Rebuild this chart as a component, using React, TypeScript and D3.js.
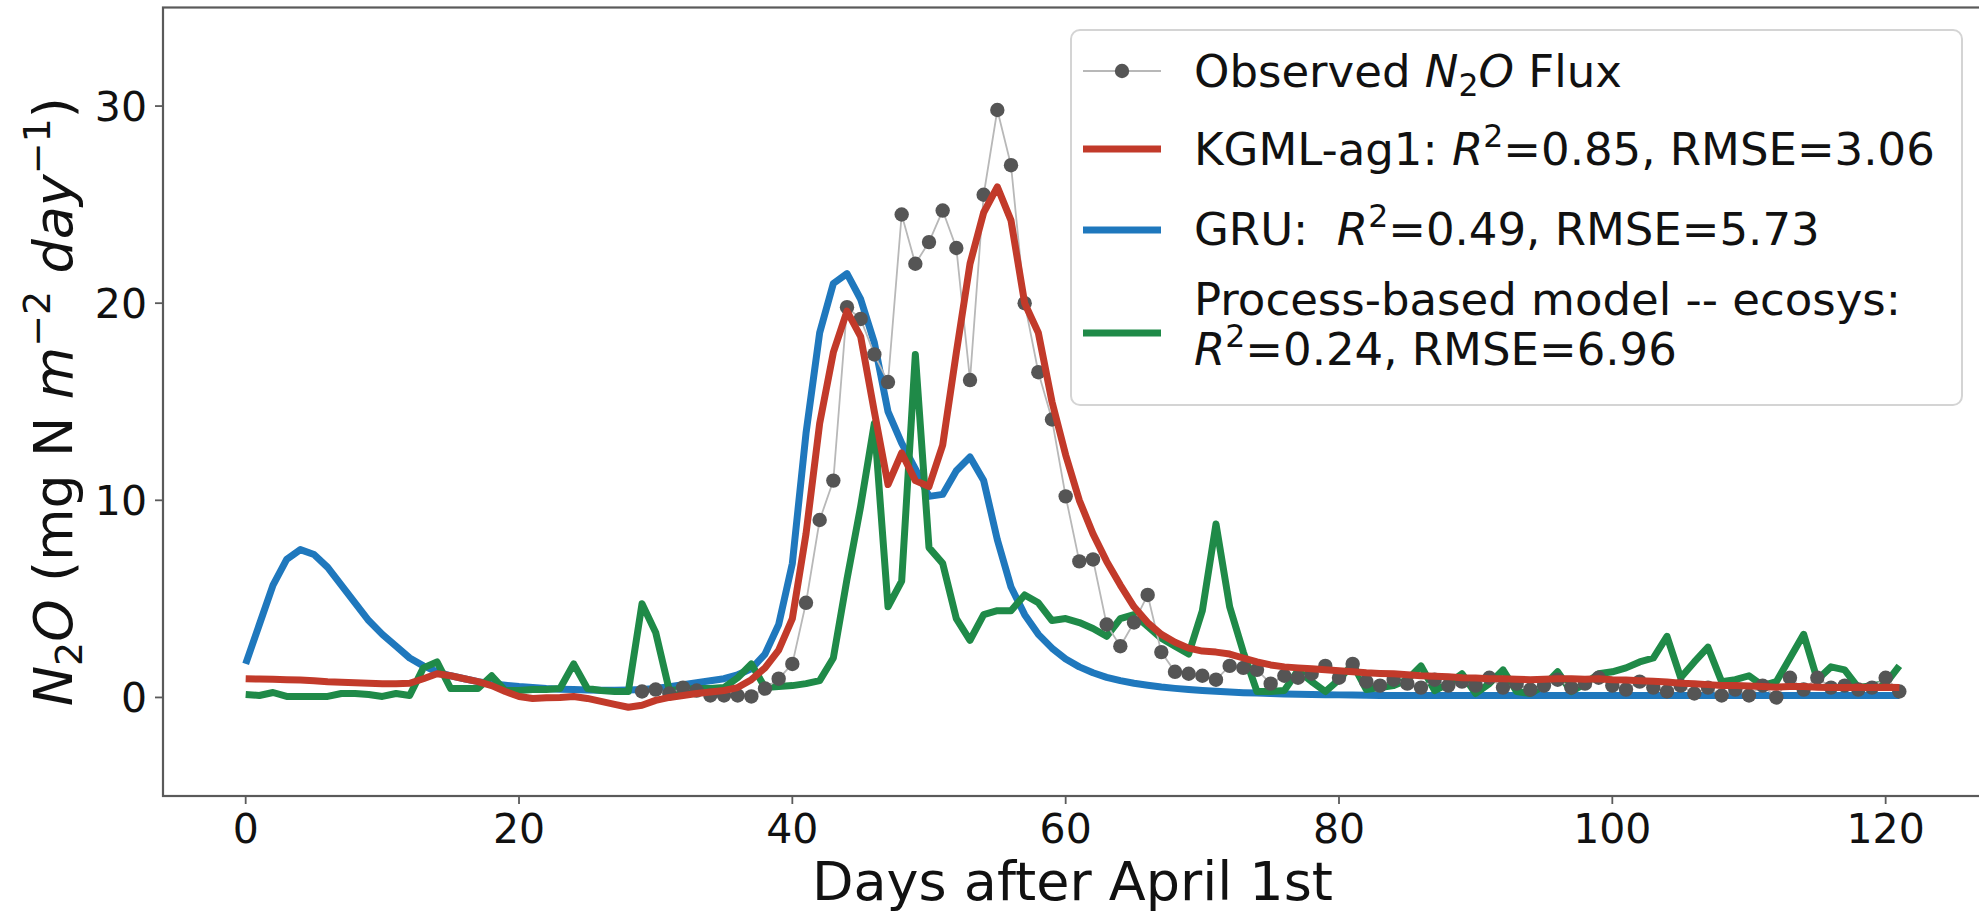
import * as d3 from 'd3';

// days after April 1st
const days = d3.range(0, 122);
const obsDays = d3.range(29, 122);

const observed = [
  0.3, 0.4, 0.2, 0.5, 0.35, 0.1, 0.1, 0.1, 0.05, 0.45,
  0.95, 1.7, 4.8, 9.0, 11.0, 19.8, 19.2, 17.4, 16.0, 24.5,
  22.0, 23.1, 24.7, 22.8, 16.1, 25.5, 29.8, 27.0, 20.0, 16.5,
  14.1, 10.2, 6.9, 7.0, 3.7, 2.6, 3.8, 5.2, 2.3, 1.3,
  1.2, 1.1, 0.9, 1.6, 1.5, 1.4, 0.7, 1.1, 1.0, 1.2,
  1.6, 1.0, 1.7, 0.8, 0.6, 0.9, 0.7, 0.5, 0.9, 0.6,
  0.8, 0.6, 1.0, 0.5, 0.7, 0.4, 0.6, 0.9, 0.5, 0.7,
  1.0, 0.6, 0.4, 0.8, 0.5, 0.3, 0.6, 0.2, 0.5, 0.1,
  0.4, 0.1, 0.6, 0.0, 1.0, 0.4, 1.0, 0.5, 0.6, 0.4,
  0.5, 1.0, 0.3
];

const kgml = [
  0.95, 0.93, 0.92, 0.9, 0.88, 0.85, 0.8, 0.77, 0.74, 0.72,
  0.7, 0.7, 0.72, 0.95, 1.2, 1.1, 0.95, 0.8, 0.6, 0.3,
  0.05, -0.05, -0.02, 0.0, 0.05, -0.05, -0.2, -0.35, -0.5, -0.4,
  -0.15, 0.0, 0.1, 0.2, 0.28, 0.35, 0.5, 0.9, 1.5, 2.4,
  4.0, 8.3, 13.9, 17.5, 19.6, 18.3, 14.5, 10.8, 12.4, 11.0,
  10.7, 12.8, 17.5, 22.0, 24.6, 25.9, 24.2, 20.0, 18.5, 15.0,
  12.3, 10.0, 8.3, 6.9, 5.7, 4.6, 3.8, 3.2, 2.8, 2.5,
  2.35, 2.3, 2.2, 2.0, 1.8, 1.65, 1.55, 1.5, 1.45, 1.4,
  1.35, 1.3, 1.25, 1.22, 1.2, 1.15, 1.1, 1.08, 1.05, 1.0,
  0.98, 0.95, 0.95, 0.92, 0.9, 0.92, 0.95, 0.95, 0.92, 0.95,
  0.9, 0.88, 0.85, 0.82, 0.78, 0.72, 0.7, 0.65, 0.6, 0.6,
  0.58, 0.55, 0.52, 0.55, 0.55, 0.52, 0.5, 0.5, 0.52, 0.5,
  0.52, 0.5
];

const gru = [
  1.7, 3.7, 5.7, 7.0, 7.5, 7.25, 6.6, 5.7, 4.8, 3.9,
  3.2, 2.6, 2.0, 1.6, 1.3, 1.1, 0.95, 0.8, 0.7, 0.62,
  0.55, 0.5, 0.45, 0.42, 0.4, 0.38, 0.36, 0.36, 0.38, 0.4,
  0.45, 0.55, 0.65, 0.75, 0.85, 0.95, 1.15, 1.45, 2.2, 3.7,
  6.8, 13.4, 18.5, 21.0, 21.5, 20.2, 18.0, 14.5, 12.9, 11.6,
  10.2, 10.3, 11.5, 12.2, 11.0, 8.0, 5.6, 4.2, 3.2, 2.5,
  1.95, 1.55, 1.25, 1.02, 0.85, 0.72, 0.62, 0.53, 0.46, 0.4,
  0.35, 0.31, 0.27, 0.24, 0.22, 0.2, 0.18, 0.16, 0.15, 0.14,
  0.13, 0.12, 0.11, 0.1, 0.1, 0.1, 0.1, 0.1, 0.1, 0.1,
  0.1, 0.1, 0.1, 0.1, 0.1, 0.1, 0.1, 0.1, 0.1, 0.1,
  0.1, 0.1, 0.1, 0.1, 0.1, 0.1, 0.1, 0.1, 0.1, 0.1,
  0.1, 0.1, 0.1, 0.1, 0.1, 0.1, 0.1, 0.1, 0.1, 0.1,
  0.1, 0.1
];

const ecosys = [
  0.15, 0.1, 0.25, 0.05, 0.05, 0.05, 0.05, 0.2, 0.2, 0.15,
  0.05, 0.2, 0.1, 1.5, 1.8, 0.45, 0.45, 0.45, 1.1, 0.35,
  0.35, 0.4, 0.4, 0.45, 1.7, 0.45, 0.35, 0.3, 0.3, 4.75,
  3.3, 0.35, 0.4, 0.45, 0.45, 0.5, 1.0, 1.7, 0.5, 0.55,
  0.6, 0.7, 0.85, 2.0, 6.0, 9.7, 13.9, 4.6, 5.9, 17.4,
  7.6, 6.8, 4.0, 2.9, 4.2, 4.4, 4.4, 5.2, 4.8, 3.9,
  4.0, 3.8, 3.5, 3.1, 4.0, 4.2, 3.6, 3.0, 2.6, 2.2,
  4.4, 8.8, 4.6, 2.3, 0.3, 0.3, 0.35, 1.37, 0.8, 0.3,
  0.9, 1.7, 0.4, 0.5, 0.6, 0.9, 1.6, 0.35, 0.7, 1.2,
  0.2, 0.7, 1.4, 0.3, 0.2, 0.6, 1.3, 0.3, 0.7, 1.2,
  1.3, 1.5, 1.8, 2.0, 3.1, 1.0, 1.8, 2.55, 0.8, 0.9,
  1.1, 0.6, 0.8, 2.0, 3.2, 0.9, 1.55, 1.4, 0.5, 0.6,
  0.7, 1.6
];

const xTicks = [0, 20, 40, 60, 80, 100, 120];
const yTicks = [0, 10, 20, 30];

const RED = '#c23a2a';
const BLUE = '#1f78bd';
const GREEN = '#1f8a48';
const DOT = '#555555';

export default function App() {
  const W = 1979, H = 913;
  const left = 163, right = 1982, top = 7.5, bottom = 796;

  const x = d3.scaleLinear().domain([-6.05, 127.05]).range([left, right]);
  const y = d3.scaleLinear().domain([-5, 35]).range([bottom, top]);

  const modelLine = d3.line<number>().x((d, i) => x(days[i])).y(d => y(d));
  const obsLine = d3.line<number>().x((d, i) => x(obsDays[i])).y(d => y(d));

  const font = 'DejaVu Sans, sans-serif';
  const lw = 7;

  // legend
  const lx = 1071, ly = 30, lwid = 891, lh = 375;
  const hx0 = 1083, hx1 = 1161, tx = 1194;
  const fs = 45;
  const up = 18;

  return (
    <svg width={W} height={H} style={{ position: 'absolute', left: 0, top: 0, background: '#fff' }} fontFamily={font}>
      <defs>
        <clipPath id="plot">
          <rect x={left} y={top} width={right - left} height={bottom - top} />
        </clipPath>
      </defs>
      <rect x={0} y={0} width={W} height={H} fill="#fff" />

      <g clipPath="url(#plot)">
        <path d={modelLine(gru) || ''} fill="none" stroke={BLUE} strokeWidth={lw} strokeLinejoin="round" />
        <path d={modelLine(ecosys) || ''} fill="none" stroke={GREEN} strokeWidth={lw} strokeLinejoin="round" />
        <path d={obsLine(observed) || ''} fill="none" stroke="#b8b8b8" strokeWidth={1.8} />
        {observed.map((v, i) => (
          <circle key={i} cx={x(obsDays[i])} cy={y(v)} r={7.2} fill={DOT} />
        ))}
        <path d={modelLine(kgml) || ''} fill="none" stroke={RED} strokeWidth={lw} strokeLinejoin="round" />
      </g>

      {/* frame */}
      <rect x={left} y={top} width={right - left} height={bottom - top} fill="none" stroke="#5a5a5a" strokeWidth={2.2} />

      {/* x axis */}
      {xTicks.map(t => (
        <g key={t}>
          <line x1={x(t)} x2={x(t)} y1={bottom} y2={bottom + 8} stroke="#5a5a5a" strokeWidth={1.8} />
          <text x={x(t)} y={843} textAnchor="middle" fontSize={41} fill="#111">{t}</text>
        </g>
      ))}
      <text x={(left + right) / 2} y={900} textAnchor="middle" fontSize={54} fill="#111">Days after April 1st</text>

      {/* y axis */}
      {yTicks.map(t => (
        <g key={t}>
          <line x1={left - 8} x2={left} y1={y(t)} y2={y(t)} stroke="#5a5a5a" strokeWidth={1.8} />
          <text x={147} y={y(t) + 15} textAnchor="end" fontSize={41} fill="#111">{t}</text>
        </g>
      ))}
      <text transform={`translate(72, ${(top + bottom) / 2}) rotate(-90)`} textAnchor="middle" fontSize={54} fill="#111">
        <tspan fontStyle="italic">N</tspan>
        <tspan dy={10} fontSize={38}>2</tspan>
        <tspan dy={-10} fontStyle="italic">O</tspan>
        <tspan> (mg N </tspan>
        <tspan fontStyle="italic">m</tspan>
        <tspan dy={-22} fontSize={38}>{'\u22122'}</tspan>
        <tspan dy={22}> </tspan>
        <tspan fontStyle="italic">day</tspan>
        <tspan dy={-22} fontSize={38}>{'\u22121'}</tspan>
        <tspan dy={22}>)</tspan>
      </text>

      {/* legend */}
      <rect x={lx} y={ly} width={lwid} height={lh} rx={9} fill="#fff" fillOpacity={0.85} stroke="#d4d4d4" strokeWidth={2} />
      <line x1={hx0} x2={hx1} y1={71} y2={71} stroke="#b8b8b8" strokeWidth={1.8} />
      <circle cx={(hx0 + hx1) / 2} cy={71} r={7.2} fill={DOT} />
      <line x1={hx0} x2={hx1} y1={149} y2={149} stroke={RED} strokeWidth={lw} />
      <line x1={hx0} x2={hx1} y1={230} y2={230} stroke={BLUE} strokeWidth={lw} />
      <line x1={hx0} x2={hx1} y1={333} y2={333} stroke={GREEN} strokeWidth={lw} />

      <g fontSize={fs} fill="#111">
        <text x={tx} y={87}>
          <tspan>Observed </tspan>
          <tspan fontStyle="italic">N</tspan>
          <tspan dy={9} fontSize={fs * 0.7}>2</tspan>
          <tspan dy={-9} fontStyle="italic">O</tspan>
          <tspan> Flux</tspan>
        </text>
        <text x={tx} y={165}>
          <tspan>KGML-ag1: </tspan>
          <tspan fontStyle="italic">R</tspan>
          <tspan dy={-up} fontSize={fs * 0.7}>2</tspan>
          <tspan dy={up}>=0.85, RMSE=3.06</tspan>
        </text>
        <text x={tx} y={245}>
          <tspan>{'GRU:\u00a0\u00a0'}</tspan>
          <tspan fontStyle="italic">R</tspan>
          <tspan dy={-up} fontSize={fs * 0.7}>2</tspan>
          <tspan dy={up}>=0.49, RMSE=5.73</tspan>
        </text>
        <text x={tx} y={315}>Process-based model -- ecosys:</text>
        <text x={tx} y={365}>
          <tspan fontStyle="italic">R</tspan>
          <tspan dy={-up} fontSize={fs * 0.7}>2</tspan>
          <tspan dy={up}>=0.24, RMSE=6.96</tspan>
        </text>
      </g>
    </svg>
  );
}
